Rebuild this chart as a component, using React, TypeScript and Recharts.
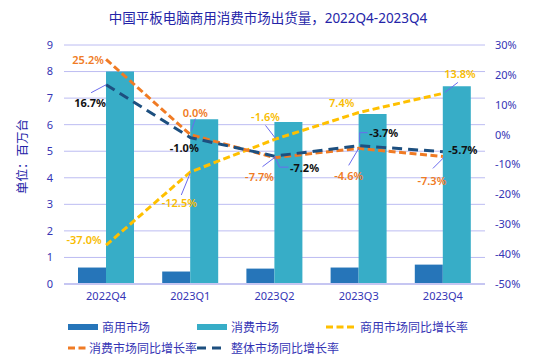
import React from "react";
import {
  ComposedChart,
  Bar,
  Line,
  XAxis,
  YAxis,
  CartesianGrid,
  LabelList,
} from "recharts";

// 数据
const quarters = ["2022Q4", "2023Q1", "2023Q2", "2023Q3", "2023Q4"];
const commercial = [0.62, 0.47, 0.58, 0.62, 0.73];
const consumer = [8.0, 6.2, 6.1, 6.4, 7.45];
const commercialYoY = [-37.0, -12.5, -1.6, 7.4, 13.8];
const consumerYoY = [25.2, 0.0, -7.7, -4.6, -7.3];
const totalYoY = [16.7, -1.0, -7.2, -3.7, -5.7];
const leftTicks = [0, 1, 2, 3, 4, 5, 6, 7, 8, 9];
const rightTicks = [-50, -40, -30, -20, -10, 0, 10, 20, 30];

const data = quarters.map((q, i) => ({
  q,
  commercial: commercial[i],
  consumer: consumer[i],
  commercialYoY: commercialYoY[i],
  consumerYoY: consumerYoY[i],
  totalYoY: totalYoY[i],
}));

const FONT = '"Noto Sans", "Noto Sans CJK SC", sans-serif';
const AXIS = "#3535b5";
const LEADER = "#6b6bee";
const C_COM = "#2675b9";
const C_CON = "#37adc7";
const C_YEL = "#ffc000";
const C_ORA = "#f07b24";
const C_DARK = "#1d4f7f";

// 标签偏移 [dx, dy] 和引导线
type Place = { dx: number; dy: number; leader?: number[][] };

const yelPlace: Place[] = [
  { dx: -22, dy: -6 },
  { dx: -11, dy: 31, leader: [[0, 1], [-9, 23]] },
  { dx: -9, dy: -23, leader: [[1, -1], [-9, -14]] },
  { dx: -17, dy: -10 },
  { dx: 17, dy: -20, leader: [[2, -1], [15, -11]] },
];
const oraPlace: Place[] = [
  { dx: -18, dy: 0 },
  { dx: 5, dy: -22, leader: [[1, -4], [5, -16]] },
  { dx: -15, dy: 19, leader: [[0, 0], [-12, 9]] },
  { dx: -10, dy: 27, leader: [[0, 0], [-10, 17]] },
  { dx: -11, dy: 24, leader: [[1, 1], [-10, 12]] },
];
const darkPlace: Place[] = [
  { dx: -16, dy: 18, leader: [[0, 0], [-15, 8]] },
  { dx: -6, dy: 10 },
  { dx: 30, dy: 11, leader: [[0, 0], [5, 11], [14, 11]] },
  { dx: 25, dy: -13, leader: [[1, -3], [1, -13], [9, -13]] },
  { dx: 20, dy: -2 },
];

function makeLabel(places: Place[], color: string, bold: boolean) {
  return (props: any) => {
    const { x, y, value, index } = props;
    const p = places[index];
    if (!p) return null;
    return (
      <g>
        {p.leader && (
          <polyline
            points={p.leader.map(([a, b]) => `${x + a},${y + b}`).join(" ")}
            fill="none"
            stroke={LEADER}
            strokeWidth={1}
          />
        )}
        <text
          x={x + p.dx}
          y={y + p.dy}
          textAnchor="middle"
          dominantBaseline="central"
          fill={color}
          fontSize={11}
          fontWeight={bold ? 700 : 600}
          fontFamily={FONT}
        >
          {Number(value).toFixed(1)}%
        </text>
      </g>
    );
  };
}

function YLabel(props: any) {
  const { viewBox } = props;
  const cx = 22;
  const cy = viewBox.y + viewBox.height / 2 - 8;
  return (
    <text
      x={cx}
      y={cy}
      transform={`rotate(-90 ${cx} ${cy})`}
      textAnchor="middle"
      dominantBaseline="central"
      fill="#2424a8"
      fontSize={12.5}
      fontFamily={FONT}
    >
      单位：百万台
    </text>
  );
}

function LegendItem({ kind, color, text }: { kind: string; color: string; text: string }) {
  return (
    <div style={{ display: "flex", alignItems: "center" }}>
      <svg width={31} height={8} style={{ marginRight: 3 }}>
        {kind === "rect" ? (
          <rect x={0} y={1} width={30} height={6} fill={color} />
        ) : (
          <line
            x1={0}
            y1={4}
            x2={30}
            y2={4}
            stroke={color}
            strokeWidth={3}
            strokeDasharray={kind === "long" ? "9 6" : "7 3.5"}
          />
        )}
      </svg>
      <span style={{ color: AXIS, fontSize: 12, whiteSpace: "nowrap" }}>{text}</span>
    </div>
  );
}

export default function App() {
  return (
    <div
      style={{
        position: "absolute",
        left: 0,
        top: 0,
        width: 543,
        height: 357,
        background: "#fff",
        fontFamily: FONT,
      }}
    >
      <div
        style={{
          position: "absolute",
          top: 7,
          left: 0,
          width: 536,
          textAlign: "center",
          color: "#2424a8",
          fontSize: 13.5,
        }}
      >
        中国平板电脑商用消费市场出货量，2022Q4-2023Q4
      </div>

      <ComposedChart
        width={543}
        height={357}
        data={data}
        margin={{ top: 45, right: 0, left: 0, bottom: 43 }}
        barGap={0}
        style={{ position: "absolute", left: 0, top: 0 }}
      >
        <CartesianGrid vertical={false} stroke="#bcbcf2" strokeWidth={1} yAxisId="left" />
        <XAxis
          dataKey="q"
          height={30}
          tickLine={false}
          axisLine={{ stroke: "#c6c6f2", strokeWidth: 2 }}
          tick={{ fill: AXIS, fontSize: 11, fontFamily: FONT }}
          tickMargin={2}
        />
        <YAxis
          yAxisId="left"
          width={64}
          domain={[0, 9]}
          ticks={leftTicks}
          interval={0}
          tickLine={false}
          axisLine={false}
          tickMargin={5}
          tick={{ fill: AXIS, fontSize: 11, fontFamily: FONT }}
          label={<YLabel />}
        />
        <YAxis
          yAxisId="right"
          orientation="right"
          width={58}
          domain={[-50, 30]}
          ticks={rightTicks}
          interval={0}
          tickLine={false}
          axisLine={false}
          tickMargin={4}
          tickFormatter={(v: number) => `${v}%`}
          tick={{ fill: AXIS, fontSize: 11, fontFamily: FONT }}
        />
        <Bar yAxisId="left" dataKey="commercial" fill={C_COM} barSize={28} isAnimationActive={false} />
        <Bar yAxisId="left" dataKey="consumer" fill={C_CON} barSize={28} isAnimationActive={false} />
        <Line
          yAxisId="right"
          dataKey="commercialYoY"
          stroke={C_YEL}
          strokeWidth={3}
          strokeDasharray="7 3.5"
          dot={false}
          activeDot={false}
          type="linear"
          isAnimationActive={false}
        >
          <LabelList dataKey="commercialYoY" content={makeLabel(yelPlace, "#f8bc00", false)} />
        </Line>
        <Line
          yAxisId="right"
          dataKey="consumerYoY"
          stroke={C_ORA}
          strokeWidth={3}
          strokeDasharray="7 3.5"
          dot={false}
          activeDot={false}
          type="linear"
          isAnimationActive={false}
        >
          <LabelList dataKey="consumerYoY" content={makeLabel(oraPlace, "#f07b24", false)} />
        </Line>
        <Line
          yAxisId="right"
          dataKey="totalYoY"
          stroke={C_DARK}
          strokeWidth={3}
          strokeDasharray="10 6"
          dot={false}
          activeDot={false}
          type="linear"
          isAnimationActive={false}
        >
          <LabelList dataKey="totalYoY" content={makeLabel(darkPlace, "#111", true)} />
        </Line>
      </ComposedChart>

      <div style={{ position: "absolute", left: 68, top: 318, width: 440 }}>
        <div style={{ display: "flex", height: 20 }}>
          <div style={{ width: 129 }}>
            <LegendItem kind="rect" color={C_COM} text="商用市场" />
          </div>
          <div style={{ width: 129 }}>
            <LegendItem kind="rect" color={C_CON} text="消费市场" />
          </div>
          <div>
            <LegendItem kind="dash" color={C_YEL} text="商用市场同比增长率" />
          </div>
        </div>
        <div style={{ display: "flex", height: 20, marginTop: 1 }}>
          <div style={{ width: 129 }}>
            <LegendItem kind="dash" color={C_ORA} text="消费市场同比增长率" />
          </div>
          <div>
            <LegendItem kind="long" color={C_DARK} text="整体市场同比增长率" />
          </div>
        </div>
      </div>
    </div>
  );
}
